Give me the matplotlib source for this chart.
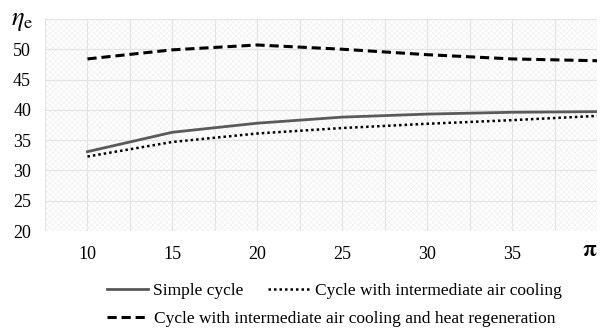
import matplotlib
matplotlib.use("Agg")
from matplotlib import pyplot as plt
from matplotlib.patches import Rectangle
from matplotlib.transforms import ScaledTranslation

plt.rcParams['font.family'] = ['Liberation Serif', 'DejaVu Serif']
plt.rcParams['mathtext.fontset'] = 'stix'
plt.rcParams['hatch.linewidth'] = 0.5

pi_values = [10, 15, 20, 25, 30, 35, 40]
simple_cycle = [33.1, 36.3, 37.8, 38.8, 39.3, 39.6, 39.7]
air_cooling = [32.3, 34.7, 36.1, 37.0, 37.7, 38.3, 39.0]
air_cooling_regen = [48.4, 49.9, 50.7, 50.0, 49.1, 48.4, 48.1]

x_ticks = [10, 15, 20, 25, 30, 35, 40]
x_tick_labels = ['10', '15', '20', '25', '30', '35', r'$\mathbf{\pi}$']
y_ticks = [20, 25, 30, 35, 40, 45, 50]

fig = plt.figure(figsize=(6, 3.32), dpi=100)
ax = fig.add_axes([0.075, 0.304, 0.92, 0.639])
# faint cross hatch background
ax.add_patch(Rectangle((0, 0), 1, 1, transform=ax.transAxes, facecolor='white',
                       edgecolor='#f0f0f0', linewidth=0, hatch='xxxxxx', zorder=-5))

l1, = ax.plot(pi_values, simple_cycle, color='#5a5a5a', linestyle='-', linewidth=2.0)
l2, = ax.plot(pi_values, air_cooling, color='black', linestyle=(0, (1, 1.2)), linewidth=1.8)
l3, = ax.plot(pi_values, air_cooling_regen, color='black', linestyle=(0, (3, 1.6)), linewidth=2.2)

ax.set_xlim(7.5, 40)
ax.set_ylim(20, 55)
ax.set_xticks(x_ticks)
ax.set_xticklabels(x_tick_labels)
ax.set_yticks(y_ticks)
ax.set_xticks([7.5 + 2.5 * i for i in range(14)], minor=True)
ax.set_yticks([55], minor=True)
ax.grid(True, which='both', color='#e3e3e3', linewidth=0.8, zorder=-4)
ax.set_axisbelow(True)
for s in ax.spines.values():
    s.set_visible(False)
ax.tick_params(which='both', length=0, labelsize=13)
ax.tick_params(axis='x', pad=11)
ax.tick_params(axis='y', pad=10)
pi_lbl = ax.xaxis.get_ticklabels()[-1]
pi_lbl.set_fontsize(16)
pi_lbl.set_horizontalalignment('right')
pi_lbl.set_transform(pi_lbl.get_transform() + ScaledTranslation(0, 3 / 72, fig.dpi_scale_trans))

fig.text(0.037, 0.934, r'$\eta_\mathrm{e}$', fontsize=19, ha='center', va='center')

fig.legend([l1, l2], ['Simple cycle', 'Cycle with intermediate air cooling'],
           loc='center', bbox_to_anchor=(0.557, 0.125), ncol=2, frameon=False,
           fontsize=12.5, handlelength=2.4, columnspacing=1.4, handletextpad=0.3,
           borderpad=0, borderaxespad=0)
fig.legend([l3], ['Cycle with intermediate air cooling and heat regeneration'],
           loc='center', bbox_to_anchor=(0.552, 0.04), frameon=False,
           fontsize=12.5, handlelength=2.4, handletextpad=0.3,
           borderpad=0, borderaxespad=0)

fig.savefig('out.png', dpi=100)
